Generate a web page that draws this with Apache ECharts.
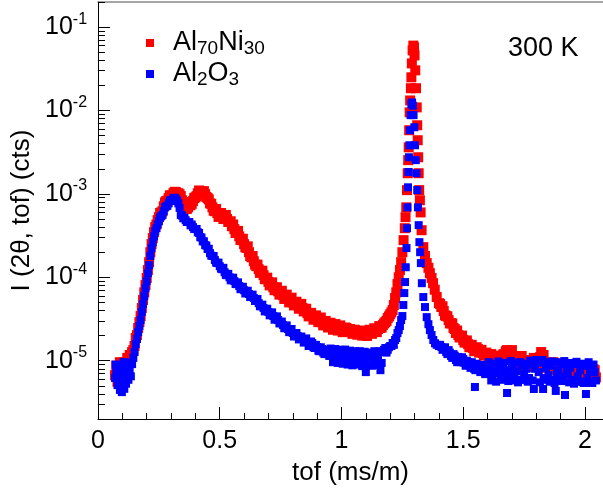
<!DOCTYPE html>
<html><head><meta charset="utf-8">
<script src="https://cdn.jsdelivr.net/npm/echarts@6/dist/echarts.min.js"></script>
<style>html,body{margin:0;padding:0;background:#fff}#c{width:603px;height:495px}</style>
</head><body><div id="c"></div>
<script>
const FONT = '"Liberation Sans", Arial, Helvetica, sans-serif';
const seriesNames = ['Al70Ni30', 'Al2O3'];
const xMajorTicks = [0, 0.5, 1, 1.5, 2];
const xMinorTicks = [0.1,0.2,0.3,0.4,0.6,0.7,0.8,0.9,1.1,1.2,1.3,1.4,1.6,1.7,1.8,1.9,2.0];
const yDecadeTicks = [1e-5, 1e-4, 1e-3, 1e-2, 1e-1];
const xRange = [0, 2.074];
const yRange = [2e-6, 0.2];
const tempLabel = '300 K';

// Al70Ni30: [tof (ms/m), I (cts)] — main bins
const alNiPoints = [
[0.070,6.7e-6],[0.075,8.7e-6],[0.080,5.6e-6],[0.085,7.7e-6],[0.090,9.6e-6],[0.095,6.2e-6],[0.100,8.2e-6],[0.105,7.3e-6],[0.110,9.6e-6],[0.115,8.7e-6],
[0.120,1.08e-5],[0.125,9.6e-6],[0.130,1.17e-5],[0.135,1.08e-5],[0.140,1.27e-5],[0.145,1.34e-5],[0.150,1.5e-5],[0.155,1.87e-5],[0.160,2.03e-5],[0.165,2.47e-5],
[0.170,2.9e-5],[0.175,3.43e-5],[0.180,4.28e-5],[0.185,5.33e-5],[0.190,6.6e-5],[0.195,8.07e-5],[0.200,9.8e-5],[0.205,1.22e-4],[0.210,1.52e-4],[0.215,2.0e-4],
[0.220,2.5e-4],[0.225,2.95e-4],[0.230,3.47e-4],[0.235,4.0e-4],[0.240,4.3e-4],[0.245,4.84e-4],
[0.25,5.26e-4],[0.26,6.0e-4],[0.27,7.1e-4],[0.28,8.2e-4],[0.29,8.9e-4],[0.30,9.6e-4],[0.31,1.02e-3],[0.32,1.05e-3],[0.33,1.02e-3],[0.34,9.4e-4],
[0.35,8.0e-4],[0.36,7.1e-4],[0.37,6.9e-4],[0.38,7.3e-4],[0.39,8.2e-4],[0.40,9.1e-4],[0.41,1.02e-3],[0.42,1.08e-3],[0.43,1.05e-3],[0.44,9.9e-4],
[0.45,8.9e-4],[0.46,7.7e-4],[0.47,6.9e-4],[0.48,6.2e-4],[0.49,5.9e-4],[0.50,5.5e-4],[0.51,5.4e-4],[0.52,5.26e-4],[0.53,5.0e-4],[0.54,4.6e-4],
[0.55,4.1e-4],[0.56,3.78e-4],[0.57,3.47e-4],[0.58,3.1e-4],[0.59,2.79e-4],[0.60,2.5e-4],[0.61,2.24e-4],[0.62,2.0e-4],[0.63,1.74e-4],[0.64,1.56e-4],
[0.65,1.36e-4],[0.66,1.25e-4],[0.67,1.15e-4],[0.68,1.06e-4],[0.69,9.5e-5],[0.70,8.8e-5],[0.71,8.3e-5],[0.72,7.6e-5],[0.73,7.2e-5],[0.74,6.8e-5],
[0.75,6.5e-5],[0.76,6.1e-5],[0.77,5.8e-5],[0.78,5.5e-5],[0.79,5.3e-5],[0.80,5.0e-5],[0.81,4.8e-5],[0.82,4.65e-5],[0.83,4.5e-5],[0.84,4.28e-5],
[0.85,3.94e-5],[0.86,3.72e-5],[0.87,3.5e-5],[0.88,3.43e-5],[0.89,3.24e-5],[0.90,3.15e-5],[0.91,3.07e-5],[0.92,2.9e-5],[0.93,2.82e-5],[0.94,2.74e-5],
[0.95,2.67e-5],[0.96,2.54e-5],[0.97,2.6e-5],[0.98,2.47e-5],[0.99,2.54e-5],[1.00,2.4e-5],[1.01,2.33e-5],[1.02,2.47e-5],[1.03,2.27e-5],[1.04,2.33e-5],
[1.05,2.21e-5],[1.06,2.27e-5],[1.07,2.15e-5],[1.08,2.21e-5],[1.09,2.09e-5],[1.10,2.15e-5],[1.11,2.21e-5],[1.12,2.27e-5],[1.13,2.27e-5],[1.14,2.33e-5],
[1.15,2.4e-5],[1.16,2.47e-5],[1.17,2.67e-5],[1.18,2.9e-5],[1.19,3.24e-5],[1.20,3.6e-5],
[1.21,4.05e-5],[1.215,4.65e-5],[1.22,5.64e-5],[1.225,6.6e-5],[1.23,8.3e-5],[1.235,1.0e-4],[1.24,1.22e-4],[1.245,1.52e-4],[1.25,2.0e-4],[1.255,2.79e-4],
[1.26,3.88e-4],[1.263,5.26e-4],[1.266,6.9e-4],[1.269,1.11e-3],[1.272,1.77e-3],[1.274,2.54e-3],[1.276,3.62e-3],[1.278,5.8e-3],[1.280,9.5e-3],[1.282,1.32e-2],
[1.285,1.85e-2],[1.287,2.5e-2],[1.289,3.67e-2],[1.292,5.26e-2],[1.295,6.0e-2],[1.298,5.7e-2],[1.300,4.58e-2],[1.303,3.03e-2],[1.306,1.85e-2],[1.309,1.09e-2],
[1.311,6.65e-3],[1.313,4.4e-3],[1.315,2.75e-3],[1.317,1.77e-3],[1.319,1.11e-3],[1.322,8.4e-4],[1.325,6.0e-4],[1.329,3.67e-4],[1.336,2.3e-4],[1.343,1.8e-4],
[1.350,1.48e-4],[1.357,1.3e-4],[1.363,1.12e-4],[1.370,9.8e-5],[1.376,8.5e-5],[1.383,7.1e-5],[1.391,5.8e-5],[1.400,4.9e-5],
[1.41,4.4e-5],[1.42,3.94e-5],[1.43,3.43e-5],[1.44,3.07e-5],[1.45,2.82e-5],[1.46,2.47e-5],[1.47,2.15e-5],[1.48,2.03e-5],[1.49,1.92e-5],[1.50,1.77e-5],
[1.51,1.67e-5],[1.52,1.58e-5],[1.53,1.46e-5],[1.54,1.42e-5],[1.55,1.34e-5],[1.56,1.38e-5],[1.57,1.27e-5],[1.58,1.24e-5],[1.59,1.17e-5],[1.60,1.2e-5],
[1.61,1.11e-5],[1.62,1.14e-5],[1.63,1.05e-5],[1.64,1.14e-5],[1.65,1.02e-5],[1.66,9.6e-6],[1.67,1.08e-5],[1.68,1.34e-5],[1.69,1.27e-5],[1.70,1.34e-5],
[1.71,1.08e-5],[1.72,9.6e-6],[1.73,8.9e-6],[1.74,1.14e-5],[1.75,9.3e-6],[1.76,8.9e-6],[1.77,1.02e-5],[1.78,8.4e-6],[1.79,1.08e-5],[1.80,8.7e-6],
[1.81,9.1e-6],[1.82,1.27e-5],[1.83,1.17e-5],[1.84,8.2e-6],[1.85,9.3e-6],[1.86,7.7e-6],[1.87,9.6e-6],[1.88,8.7e-6],[1.89,7.3e-6],[1.90,9.1e-6],
[1.91,8.0e-6],[1.92,6.7e-6],[1.93,8.4e-6],[1.94,7.5e-6],[1.95,6.2e-6],[1.96,8.2e-6],[1.97,6.9e-6],[1.98,7.7e-6],[1.99,5.9e-6],[2.00,7.3e-6],
[2.01,5.6e-6],[2.02,8.2e-6],[2.03,6.5e-6],[2.04,7.7e-6]
];
// Al70Ni30 — intermediate bins
const alNiPointsMid = [
[0.255,5.9e-4],[0.265,6.2e-4],[0.275,7.9e-4],[0.285,8.3e-4],[0.295,9.6e-4],[0.305,9.5e-4],[0.315,1.06e-3],[0.325,1.0e-3],[0.335,9.9e-4],[0.345,8.4e-4],
[0.355,7.6e-4],[0.365,6.6e-4],[0.375,7.4e-4],[0.385,7.6e-4],[0.395,8.9e-4],[0.405,9.4e-4],[0.415,1.1e-3],[0.425,1.03e-3],[0.435,1.08e-3],[0.445,9.2e-4],
[0.455,8.6e-4],[0.465,7.6e-4],[0.475,6.3e-4],[0.485,6.6e-4],[0.495,5.3e-4],[0.505,5.9e-4],[0.515,5.0e-4],[0.525,5.6e-4],[0.535,4.6e-4],[0.545,4.7e-4],
[0.555,4.3e-4],[0.565,3.4e-4],[0.575,3.6e-4],[0.585,2.8e-4],[0.595,2.9e-4],[0.605,2.3e-4],[0.615,2.35e-4],[0.625,1.8e-4],[0.635,1.8e-4],[0.645,1.42e-4],
[0.655,1.42e-4],[0.665,1.13e-4],[0.675,1.2e-4],[0.685,9.5e-5],[0.695,9.9e-5],[0.705,8.0e-5],[0.715,8.7e-5],[0.725,7.0e-5],[0.735,7.6e-5],[0.745,6.2e-5],
[0.755,6.9e-5],[0.765,5.5e-5],[0.775,6.2e-5],[0.785,5.0e-5],[0.795,5.7e-5],[0.805,4.6e-5],[0.815,5.1e-5],[0.825,4.2e-5],[0.835,4.8e-5],[0.845,3.9e-5],
[0.855,4.2e-5],[0.865,3.4e-5],[0.875,3.75e-5],[0.885,3.1e-5],[0.895,3.5e-5],[0.905,2.9e-5],[0.915,3.3e-5],[0.925,2.65e-5],[0.935,3.0e-5],[0.945,2.5e-5],
[0.955,2.85e-5],[0.965,2.35e-5],[0.975,2.75e-5],[0.985,2.3e-5],[0.995,2.65e-5],[1.005,2.2e-5],[1.015,2.5e-5],[1.025,2.25e-5],[1.035,2.4e-5],[1.045,2.1e-5],
[1.055,2.35e-5],[1.065,2.05e-5],[1.075,2.3e-5],[1.085,2.0e-5],[1.095,2.25e-5],[1.105,1.98e-5],[1.115,2.35e-5],[1.125,2.1e-5],[1.135,2.45e-5],[1.145,2.2e-5],
[1.155,2.6e-5],[1.165,2.5e-5],[1.175,2.8e-5],[1.185,3.0e-5],[1.195,3.4e-5],[1.205,3.8e-5],
[1.405,4.8e-5],[1.415,4.5e-5],[1.425,3.5e-5],[1.435,3.4e-5],[1.445,2.8e-5],[1.455,2.8e-5],[1.465,2.4e-5],[1.475,2.3e-5],[1.485,1.9e-5],[1.495,2.0e-5],
[1.505,1.65e-5],[1.515,1.75e-5],[1.525,1.45e-5],[1.535,1.55e-5],[1.545,1.3e-5],[1.555,1.45e-5],[1.565,1.25e-5],[1.575,1.35e-5],[1.585,1.15e-5],[1.595,1.25e-5],
[1.605,1.1e-5],[1.615,1.2e-5],[1.625,1.05e-5],[1.635,1.15e-5],[1.645,1.0e-5],[1.655,1.1e-5],[1.665,1.2e-5],[1.675,1.3e-5],[1.685,1.2e-5],[1.695,1.05e-5],
[1.705,1.0e-5],[1.715,9.3e-6],[1.725,1.05e-5],[1.735,9.8e-6],[1.745,1.0e-5],[1.755,8.5e-6],[1.765,9.8e-6],[1.775,9.0e-6],[1.785,1.0e-5],[1.795,9.5e-6],
[1.805,1.0e-5],[1.815,1.1e-5],[1.825,1.1e-5],[1.835,9.4e-6],[1.845,9.0e-6],[1.855,8.3e-6],[1.865,8.8e-6],[1.875,8.1e-6],[1.885,9.2e-6],[1.895,8.3e-6],
[1.905,7.6e-6],[1.915,8.8e-6],[1.925,7.8e-6],[1.935,7.0e-6],[1.945,8.5e-6],[1.955,7.4e-6],[1.965,7.0e-6],[1.975,8.0e-6],[1.985,6.5e-6],[1.995,7.6e-6],
[2.005,6.2e-6],[2.015,7.8e-6],[2.025,6.0e-6],[2.035,7.9e-6],[2.045,6.3e-6]
];

// Al2O3: [tof (ms/m), I (cts)] — main bins
const alOPoints = [
[0.070,6.2e-6],[0.075,7.7e-6],[0.080,5.1e-6],[0.085,6.9e-6],[0.090,4.46e-6],[0.095,8.7e-6],[0.100,5.9e-6],[0.105,9.6e-6],[0.110,6.5e-6],[0.115,5.3e-6],
[0.120,8.7e-6],[0.125,5.9e-6],[0.130,7.7e-6],[0.135,6.5e-6],[0.140,9.1e-6],[0.145,1.08e-5],[0.150,1.27e-5],[0.155,1.58e-5],[0.160,1.82e-5],[0.165,2.21e-5],
[0.170,2.6e-5],[0.175,3.07e-5],[0.180,3.83e-5],[0.185,4.78e-5],[0.190,5.95e-5],[0.195,7.4e-5],[0.200,9.0e-5],[0.205,1.12e-4],[0.210,1.4e-4],[0.215,1.8e-4],
[0.220,2.24e-4],[0.225,2.64e-4],[0.230,3.1e-4],[0.235,3.57e-4],[0.240,3.88e-4],[0.245,4.3e-4],
[0.25,4.7e-4],[0.26,5.4e-4],[0.27,6.2e-4],[0.28,7.1e-4],[0.29,7.7e-4],[0.30,8.4e-4],[0.31,8.9e-4],[0.32,8.65e-4],[0.33,7.7e-4],
[0.34,5.6e-4],[0.35,5.1e-4],[0.36,4.84e-4],[0.37,4.6e-4],[0.38,4.2e-4],[0.39,4.0e-4],[0.40,3.78e-4],[0.41,3.47e-4],[0.42,3.03e-4],[0.43,2.7e-4],
[0.44,2.43e-4],[0.45,2.18e-4],[0.46,1.95e-4],[0.47,1.8e-4],[0.48,1.61e-4],[0.49,1.48e-4],[0.50,1.36e-4],[0.51,1.25e-4],[0.52,1.15e-4],[0.53,1.06e-4],
[0.54,1.0e-4],[0.55,9.5e-5],[0.56,9.0e-5],[0.57,8.3e-5],[0.58,7.85e-5],[0.59,7.4e-5],[0.60,7.0e-5],[0.61,6.6e-5],[0.62,6.3e-5],[0.63,5.95e-5],
[0.64,5.64e-5],[0.65,5.33e-5],[0.66,4.9e-5],[0.67,4.5e-5],[0.68,4.28e-5],[0.69,4.05e-5],[0.70,3.83e-5],[0.71,3.6e-5],[0.72,3.43e-5],[0.73,3.24e-5],
[0.74,3.07e-5],[0.75,2.82e-5],[0.76,2.67e-5],[0.77,2.54e-5],[0.78,2.4e-5],[0.79,2.27e-5],[0.80,2.15e-5],[0.81,2.03e-5],[0.82,1.98e-5],[0.83,1.87e-5],
[0.84,1.82e-5],[0.85,1.77e-5],[0.86,1.67e-5],[0.87,1.55e-5],[0.88,1.63e-5],[0.89,1.42e-5],[0.90,1.46e-5],[0.91,1.3e-5],[0.92,1.38e-5],[0.93,1.2e-5],
[0.94,1.34e-5],[0.95,1.14e-5],[0.96,1.27e-5],[0.97,1.11e-5],[0.98,1.24e-5],[0.99,1.05e-5],[1.00,1.2e-5],[1.01,1.08e-5],[1.02,1.17e-5],[1.03,9.9e-6],
[1.04,1.14e-5],[1.05,1.05e-5],[1.06,1.2e-5],[1.07,9.6e-6],[1.08,1.11e-5],[1.09,1.02e-5],[1.10,7.3e-6],[1.11,1.14e-5],[1.12,1.08e-5],[1.13,1.2e-5],
[1.14,1.02e-5],[1.15,1.17e-5],[1.16,7.7e-6],[1.17,1.27e-5],[1.18,1.42e-5],[1.19,1.35e-5],[1.20,1.5e-5],
[1.205,1.5e-5],[1.21,1.63e-5],[1.215,1.55e-5],[1.22,1.77e-5],[1.225,1.87e-5],[1.23,2.15e-5],[1.235,2.33e-5],[1.24,2.6e-5],[1.245,3.07e-5],[1.25,3.43e-5],
[1.254,4.65e-5],[1.258,6.47e-5],[1.261,8.77e-5],[1.264,1.32e-4],[1.267,2.24e-4],[1.269,3.88e-4],[1.271,6.9e-4],[1.273,1.2e-3],[1.275,1.83e-3],[1.277,2.75e-3],
[1.279,3.83e-3],[1.281,5.8e-3],[1.284,8.8e-3],[1.287,1.19e-2],[1.290,1.25e-2],[1.293,1.14e-2],[1.296,8.8e-3],[1.299,6.3e-3],[1.302,3.83e-3],[1.305,2.54e-3],
[1.308,1.77e-3],[1.311,1.11e-3],[1.314,6.9e-4],[1.317,4.22e-4],[1.320,2.64e-4],[1.323,2.0e-4],[1.326,1.48e-4],[1.330,8.5e-5],[1.336,5.8e-5],[1.343,4.4e-5],
[1.350,3.33e-5],[1.357,2.74e-5],[1.363,2.33e-5],[1.370,2.03e-5],[1.377,1.77e-5],[1.384,1.62e-5],[1.391,1.55e-5],[1.400,1.5e-5],
[1.41,1.46e-5],[1.42,1.38e-5],[1.43,1.27e-5],[1.44,1.34e-5],[1.45,1.14e-5],[1.46,1.2e-5],[1.47,1.02e-5],[1.48,1.11e-5],[1.49,9.6e-6],[1.50,1.05e-5],
[1.51,8.7e-6],[1.52,9.6e-6],[1.53,8.2e-6],[1.54,9.1e-6],[1.548,4.84e-6],[1.55,7.7e-6],[1.56,8.7e-6],[1.57,7.3e-6],[1.58,8.4e-6],[1.59,6.9e-6],[1.60,8.9e-6],
[1.61,7.5e-6],[1.62,6.5e-6],[1.63,8.2e-6],[1.64,7.1e-6],[1.65,8.7e-6],[1.66,6.2e-6],[1.67,7.7e-6],[1.675,7.3e-6],[1.68,4.1e-6],[1.69,6.7e-6],[1.70,8.2e-6],
[1.71,6.5e-6],[1.72,7.5e-6],[1.73,5.9e-6],[1.74,8.7e-6],[1.75,6.9e-6],[1.76,8.0e-6],[1.77,6.2e-6],[1.78,9.1e-6],[1.79,4.58e-6],[1.795,8.0e-6],[1.80,1.02e-5],
[1.81,7.3e-6],[1.82,9.6e-6],[1.828,4.58e-6],[1.83,6.2e-6],[1.84,8.2e-6],[1.85,6.7e-6],[1.86,8.7e-6],[1.87,5.9e-6],[1.88,4.34e-6],[1.885,7.0e-6],[1.89,7.7e-6],[1.90,6.4e-6],
[1.91,9.1e-6],[1.918,3.88e-6],[1.925,7.5e-6],[1.93,6.9e-6],[1.94,8.2e-6],[1.95,5.9e-6],[1.96,9.1e-6],[1.97,6.5e-6],[1.98,7.7e-6],[1.99,5.6e-6],[2.00,8.7e-6],
[2.004,3.99e-6],[2.01,6.2e-6],[2.02,7.7e-6],[2.03,5.4e-6],[2.04,7.3e-6]
];
// Al2O3 — intermediate bins
const alOPointsMid = [
[0.0725,9.0e-6],[0.0825,7.0e-6],[0.0925,5.4e-6],[0.098,4.2e-6],[0.1025,7.8e-6],[0.108,4.6e-6],[0.1125,8.8e-6],[0.1225,6.6e-6],[0.1325,9.5e-6],
[0.255,5.2e-4],[0.265,5.6e-4],[0.275,6.9e-4],[0.285,7.2e-4],[0.295,8.3e-4],[0.305,8.2e-4],[0.315,9.0e-4],[0.325,8.3e-4],[0.335,6.8e-4],[0.345,5.5e-4],
[0.355,5.2e-4],[0.365,4.6e-4],[0.375,4.6e-4],[0.385,4.3e-4],[0.395,3.8e-4],[0.405,3.8e-4],[0.415,3.4e-4],[0.425,3.0e-4],[0.435,2.7e-4],[0.445,2.4e-4],
[0.455,2.2e-4],[0.465,1.82e-4],[0.475,1.8e-4],[0.485,1.5e-4],[0.495,1.5e-4],[0.505,1.27e-4],[0.515,1.3e-4],[0.525,1.07e-4],[0.535,1.1e-4],[0.545,9.2e-5],
[0.555,9.9e-5],[0.565,8.3e-5],[0.575,8.7e-5],[0.585,7.2e-5],[0.595,7.7e-5],[0.605,6.4e-5],[0.615,6.9e-5],[0.625,5.8e-5],[0.635,6.2e-5],[0.645,5.2e-5],
[0.655,5.5e-5],[0.665,4.5e-5],[0.675,4.7e-5],[0.685,3.9e-5],[0.695,4.2e-5],[0.705,3.5e-5],[0.715,3.8e-5],[0.725,3.1e-5],[0.735,3.4e-5],[0.745,2.8e-5],
[0.755,2.95e-5],[0.765,2.45e-5],[0.775,2.65e-5],[0.785,2.2e-5],[0.795,2.4e-5],[0.805,1.95e-5],[0.815,2.15e-5],[0.825,1.8e-5],[0.835,1.95e-5],[0.845,1.65e-5],
[0.855,1.85e-5],[0.865,1.5e-5],[0.875,1.7e-5],[0.885,1.45e-5],[0.895,1.55e-5],[0.905,1.32e-5],[0.915,1.45e-5],[0.925,1.25e-5],[0.935,1.35e-5],[0.945,1.2e-5],
[0.955,1.4e-5],[0.965,9.6e-6],[0.975,1.38e-5],[0.985,9.4e-6],[0.995,1.35e-5],[1.005,9.2e-6],[1.015,1.36e-5],[1.025,9.0e-6],[1.035,1.32e-5],[1.045,8.8e-6],
[1.055,1.3e-5],[1.065,9.0e-6],[1.075,1.3e-5],[1.085,8.6e-6],[1.095,1.28e-5],[1.105,8.8e-6],[1.115,1.25e-5],[1.125,8.7e-6],[1.135,1.3e-5],[1.145,8.9e-6],
[1.155,1.3e-5],[1.165,9.4e-6],[1.175,1.35e-5],[1.185,1.25e-5],[1.195,1.45e-5],
[1.405,1.55e-5],[1.415,1.35e-5],[1.425,1.45e-5],[1.435,1.2e-5],[1.445,1.25e-5],[1.455,1.08e-5],[1.465,1.15e-5],[1.475,9.6e-6],[1.485,1.05e-5],[1.495,1.1e-5],
[1.505,9.4e-6],[1.515,1.0e-5],[1.525,8.8e-6],[1.535,9.6e-6],[1.545,8.0e-6],[1.555,9.2e-6],[1.565,7.9e-6],[1.575,8.9e-6],[1.585,7.4e-6],[1.595,8.2e-6],
[1.605,9.6e-6],[1.615,5.8e-6],[1.625,9.2e-6],[1.635,5.6e-6],[1.645,9.8e-6],[1.655,5.9e-6],[1.665,9.4e-6],[1.685,5.7e-6],[1.695,9.9e-6],[1.705,5.8e-6],
[1.715,9.5e-6],[1.725,5.5e-6],[1.735,9.6e-6],[1.745,5.9e-6],[1.755,9.2e-6],[1.765,5.6e-6],[1.775,1.0e-5],[1.785,5.8e-6],[1.805,9.4e-6],[1.815,5.5e-6],
[1.825,1.02e-5],[1.835,5.9e-6],[1.845,9.6e-6],[1.855,5.6e-6],[1.865,9.8e-6],[1.875,5.4e-6],[1.895,9.6e-6],[1.905,5.7e-6],[1.915,9.9e-6],[1.935,5.5e-6],
[1.945,9.4e-6],[1.955,5.3e-6],[1.965,9.7e-6],[1.975,5.6e-6],[1.985,9.2e-6],[1.995,5.4e-6],[2.015,9.6e-6],[2.025,5.5e-6],[2.035,9.0e-6],[2.045,5.8e-6]
];

// minor ticks of the logarithmic intensity axis (2..9 x each decade)
const yMinorTicks = [];
for (let e = -6; e <= -1; e++) {
  for (let k = 2; k <= 9; k++) {
    const v = k * Math.pow(10, e);
    if (v >= yRange[0] * 0.9999 && v <= yRange[1] * 1.0001) yMinorTicks.push(Math.log10(v));
  }
}
const lg = (v) => Math.log10(v);
const toLog = (pts) => pts.map(p => [p[0], lg(p[1])]);

const legendRich = {
  f: { fontFamily: FONT, fontSize: 27, lineHeight: 30, color: '#000', padding: [0, 0, 0, 14] },
  m: { fontFamily: FONT, fontSize: 27, lineHeight: 30, color: '#000' },
  s: { fontFamily: FONT, fontSize: 19, lineHeight: 20, color: '#000', verticalAlign: 'bottom' }
};
const legendText = {
  'Al70Ni30': '{f|Al}{s|70}{m|Ni}{s|30}',
  'Al2O3': '{f|Al}{s|2}{m|O}{s|3}'
};

const chart = echarts.init(document.getElementById('c'), null, { renderer: 'canvas' });
chart.setOption({
  animation: false,
  backgroundColor: '#fff',
  textStyle: { fontFamily: FONT },
  grid: { left: 98, right: 0, top: 2, bottom: 76, containLabel: false, outerBoundsMode: 'none' },
  title: {
    text: tempLabel, left: 503, top: 30,
    textStyle: { fontFamily: FONT, fontSize: 27, fontWeight: 'normal', color: '#000' }
  },
  legend: {
    data: seriesNames, orient: 'vertical', left: 146, top: 29.5, itemGap: 2.5,
    itemWidth: 8, itemHeight: 8, icon: 'rect', padding: 0,
    formatter: (name) => legendText[name],
    textStyle: { fontFamily: FONT, fontSize: 27, color: '#000', rich: legendRich }
  },
  xAxis: [
    {
      type: 'value', min: xRange[0], max: xRange[1], position: 'bottom',
      name: 'tof (ms/m)', nameLocation: 'middle', nameGap: 41, nameMoveOverlap: false,
      nameTextStyle: { fontFamily: FONT, fontSize: 26, color: '#000' },
      axisLine: { show: true, onZero: false, lineStyle: { color: '#000', width: 1 } },
      axisTick: { show: true, inside: true, length: 12, customValues: xMajorTicks, lineStyle: { color: '#000', width: 1 } },
      axisLabel: { customValues: xMajorTicks, fontFamily: FONT, fontSize: 25, color: '#000', margin: 10,
        formatter: (v) => String(v) },
      splitLine: { show: false }
    },
    {
      type: 'value', min: xRange[0], max: xRange[1], position: 'bottom',
      axisLine: { show: false, onZero: false },
      axisTick: { show: true, inside: true, length: 6, customValues: xMinorTicks, lineStyle: { color: '#000', width: 1 } },
      axisLabel: { show: false }, splitLine: { show: false }
    },
    {
      type: 'value', min: xRange[0], max: xRange[1], position: 'top',
      axisLine: { show: true, onZero: false, lineStyle: { color: '#888', width: 1.5 } },
      axisTick: { show: false }, axisLabel: { show: false }, splitLine: { show: false }
    }
  ],
  yAxis: [
    {
      type: 'value', min: lg(yRange[0]), max: lg(yRange[1]), position: 'left',
      name: 'I (2θ, tof) (cts)', nameLocation: 'middle', nameGap: 63, nameMoveOverlap: false,
      nameTextStyle: { fontFamily: FONT, fontSize: 26, color: '#000' },
      axisLine: { show: true, onZero: false, lineStyle: { color: '#000', width: 1 } },
      axisTick: { show: true, inside: true, length: 12, customValues: yDecadeTicks.map(lg), lineStyle: { color: '#000', width: 1 } },
      axisLabel: {
        customValues: yDecadeTicks.map(lg), align: 'left', margin: 53,
        formatter: (v) => '{b|10}{s|' + Math.round(v) + '}',
        rich: {
          b: { fontFamily: FONT, fontSize: 25, lineHeight: 32, color: '#000' },
          s: { fontFamily: FONT, fontSize: 16, lineHeight: 16, color: '#000', verticalAlign: 'top' }
        }
      },
      splitLine: { show: false }
    },
    {
      type: 'value', min: lg(yRange[0]), max: lg(yRange[1]), position: 'left',
      axisLine: { show: false, onZero: false },
      axisTick: { show: true, inside: true, length: 7, customValues: yMinorTicks, lineStyle: { color: '#000', width: 1 } },
      axisLabel: { show: false }, splitLine: { show: false }
    }
  ],
  series: [
    {
      name: seriesNames[0], type: 'scatter', xAxisIndex: 0, yAxisIndex: 0,
      symbol: 'rect', symbolSize: 10, itemStyle: { color: '#ff0000', opacity: 1 },
      data: toLog(alNiPoints.concat(alNiPointsMid)), z: 2
    },
    {
      name: seriesNames[1], type: 'scatter', xAxisIndex: 0, yAxisIndex: 0,
      symbol: 'rect', symbolSize: 8, itemStyle: { color: '#0000ff', opacity: 1 },
      data: toLog(alOPoints.concat(alOPointsMid)), z: 3
    }
  ]
});
</script>
</body></html>
